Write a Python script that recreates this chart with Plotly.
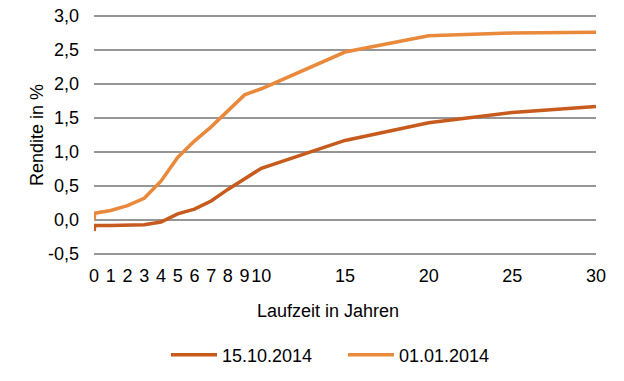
import plotly.graph_objects as go

laufzeit = [0, 0.05, 1, 2, 3, 4, 5, 6, 7, 8, 9, 10, 15, 20, 25, 30]
rendite_15_10_2014 = [-0.16, -0.08, -0.08, -0.07, -0.07, -0.03, 0.09, 0.16, 0.28, 0.45, 0.60, 0.76, 1.17, 1.43, 1.58, 1.67]
rendite_01_01_2014 = [0.00, 0.10, 0.14, 0.21, 0.32, 0.57, 0.92, 1.16, 1.37, 1.60, 1.84, 1.93, 2.47, 2.71, 2.75, 2.76]

x_tickvals = [0, 1, 2, 3, 4, 5, 6, 7, 8, 9, 10, 15, 20, 25, 30]
x_ticktext = ["0", "1", "2", "3", "4", "5", "6", "7", "8", "9", "10", "15", "20", "25", "30"]
zero_ticks = [5, 10, 15, 20, 25, 30]
y_tickvals = [-0.5, 0, 0.5, 1.0, 1.5, 2.0, 2.5, 3.0]
y_ticktext = ["-0,5", "0,0", "0,5", "1,0", "1,5", "2,0", "2,5", "3,0"]

FONT = "Liberation Sans, Arial, sans-serif"
DARK = "#C65B1D"
LIGHT = "#E8893B"
GRID = "#969696"
FS = 18

fig = go.Figure()
fig.add_trace(go.Scatter(x=laufzeit, y=rendite_15_10_2014, mode="lines", name="15.10.2014",
                         line=dict(color=DARK, width=3.5)))
fig.add_trace(go.Scatter(x=laufzeit, y=rendite_01_01_2014, mode="lines", name="01.01.2014",
                         line=dict(color=LIGHT, width=3.5)))

W, H = 624, 381
PAD = 2                       # pixels of slack above/below outer gridlines
UNIT = 68.0                   # pixels per 1.0 on the y axis
L, R, T, B = 94, 28, 16 - PAD, 127 - PAD
PW, PH = W - L - R, H - T - B
eps = PAD / UNIT
y_range = [-0.5 - eps, 3.0 + eps]
zero_pos = (0 - y_range[0]) / (y_range[1] - y_range[0])


def px_x(px):
    return (px - L) / PW


def px_y(py):
    return 1 - (py - T) / PH


fig.update_layout(
    width=W, height=H,
    margin=dict(l=L, r=R, t=T, b=B, autoexpand=False),
    paper_bgcolor="white", plot_bgcolor="white",
    font=dict(family=FONT, size=FS, color="#000000"),
    showlegend=True,
    legend=dict(orientation="h", x=px_x(166), xanchor="left",
                y=px_y(355), yanchor="middle",
                font=dict(size=FS), itemwidth=46, traceorder="normal",
                entrywidth=116, entrywidthmode="pixels"),
    xaxis=dict(range=[0, 30], tickvals=x_tickvals, ticktext=x_ticktext, tickangle=0,
               showgrid=False, zeroline=False, showline=False, automargin=False,
               ticks="", ticklabelstandoff=7, tickfont=dict(size=FS)),
    xaxis2=dict(range=[0, 30], overlaying="x", anchor="free", position=zero_pos,
                side="bottom", matches="x", tickvals=zero_ticks, showticklabels=False,
                ticks="outside", ticklen=5, tickwidth=1.5, tickcolor=GRID,
                showline=True, linecolor=GRID, linewidth=2, showgrid=False, zeroline=False),
    xaxis3=dict(range=[0, 30], overlaying="x", anchor="free", position=zero_pos,
                side="top", matches="x", tickvals=zero_ticks, showticklabels=False,
                ticks="outside", ticklen=4, tickwidth=1.5, tickcolor=GRID,
                showline=False, showgrid=False, zeroline=False),
    yaxis=dict(range=y_range, tickvals=y_tickvals, ticktext=y_ticktext,
               showgrid=True, gridcolor=GRID, gridwidth=2, zeroline=False, automargin=False,
               showline=False, ticks="", ticklabelstandoff=14, tickfont=dict(size=FS),
               ticklabeloverflow="allow"),
    annotations=[
        dict(text="Rendite in %", xref="paper", yref="paper", x=px_x(37),
             y=0.5, showarrow=False, textangle=-90, font=dict(size=FS),
             xanchor="center", yanchor="middle"),
        dict(text="Laufzeit in Jahren", xref="paper", yref="paper", x=px_x(328),
             y=px_y(311), showarrow=False, font=dict(size=FS),
             xanchor="center", yanchor="middle"),
    ],
)

fig.write_html("out.html", config={"displayModeBar": False},
               post_script="document.body.style.margin='0';document.body.style.padding='0';")
